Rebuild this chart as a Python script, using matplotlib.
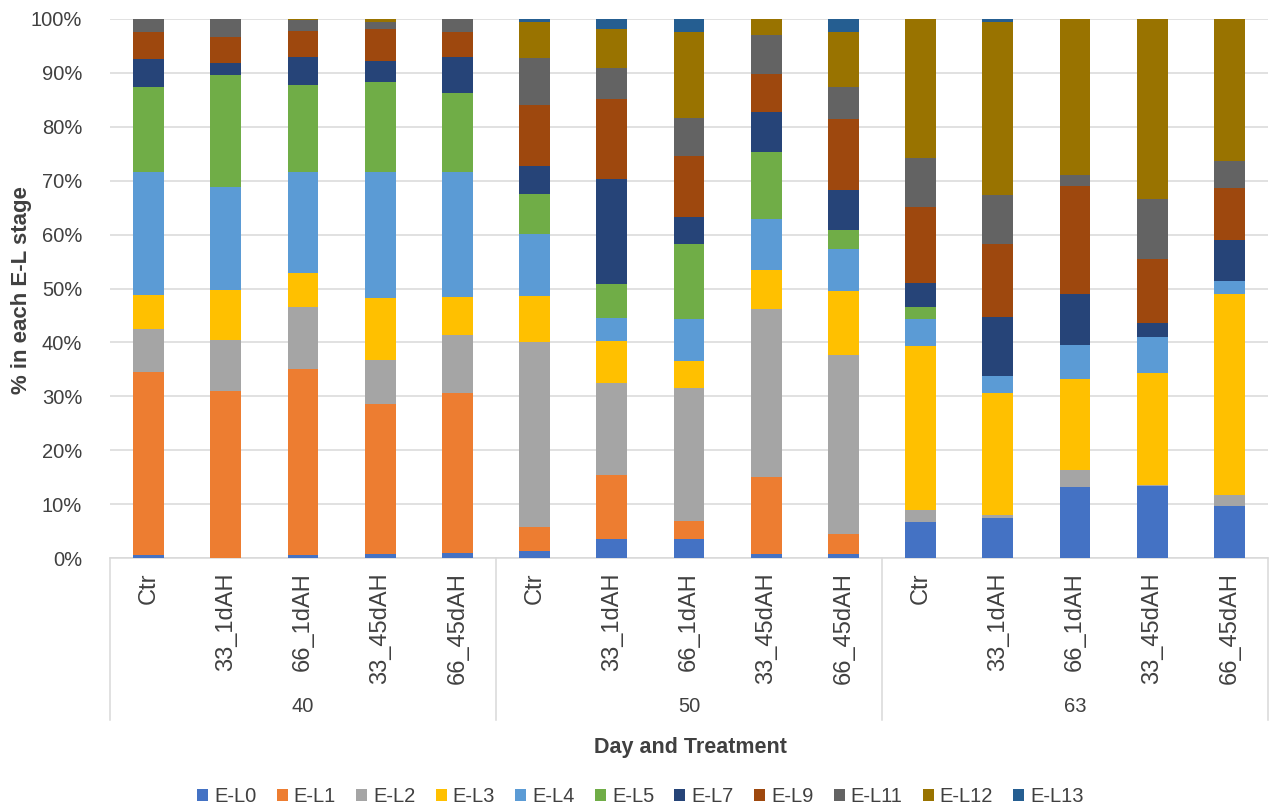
import numpy as np
import matplotlib
matplotlib.use("Agg")
import matplotlib.pyplot as plt

plt.rcParams['font.family'] = ['Liberation Sans', 'DejaVu Sans']

days = ["40", "50", "63"]
treatments = ["Ctr", "33_1dAH", "66_1dAH", "33_45dAH", "66_45dAH"]
stages = ["E-L0", "E-L1", "E-L2", "E-L3", "E-L4", "E-L5",
          "E-L7", "E-L9", "E-L11", "E-L12", "E-L13"]

# percentage of shoots in each E-L stage, one value per day x treatment
el0 = [0.5, 0, 0.5, 0.7, 0.9, 1.3, 3.5, 3.5, 0.7, 0.7, 6.7, 7.4, 13.2, 13.4, 9.6]
el1 = [34.1, 30.9, 34.6, 27.9, 29.7, 4.4, 11.9, 3.4, 14.3, 3.7, 0, 0, 0, 0, 0]
el2 = [7.8, 9.5, 11.5, 8.1, 10.7, 34.3, 17.1, 24.7, 31.2, 33.3, 2.2, 0.6, 3.2, 0.2, 2.0]
el3 = [6.4, 9.4, 6.3, 11.6, 7.2, 8.7, 7.7, 4.9, 7.2, 11.8, 30.4, 22.7, 16.9, 20.8, 37.3]
el4 = [22.8, 19.0, 18.8, 23.3, 23.2, 11.4, 4.4, 7.9, 9.5, 7.8, 5.1, 3.1, 6.2, 6.6, 2.5]
el5 = [15.8, 20.8, 16.1, 16.7, 14.6, 7.4, 6.2, 13.8, 12.5, 3.5, 2.1, 0, 0, 0, 0]
el7 = [5.1, 2.2, 5.1, 3.9, 6.6, 5.2, 19.5, 5.1, 7.4, 7.5, 4.5, 10.9, 9.5, 2.6, 7.6]
el9 = [5.1, 4.8, 4.9, 6.0, 4.7, 11.3, 14.9, 11.3, 7.0, 13.2, 14.1, 13.6, 20.1, 11.8, 9.7]
el11 = [2.4, 3.4, 2.0, 1.3, 2.4, 8.7, 5.7, 7.1, 7.3, 5.9, 9.1, 9.0, 2.0, 11.2, 5.0]
el12 = [0, 0, 0.2, 0.5, 0, 6.8, 7.2, 15.9, 2.9, 10.1, 25.8, 32.2, 28.9, 33.4, 26.3]
el13 = [0, 0, 0, 0, 0, 0.5, 1.9, 2.4, 0, 2.5, 0, 0.5, 0, 0, 0]

series = [el0, el1, el2, el3, el4, el5, el7, el9, el11, el12, el13]
colors = ["#4472C4", "#ED7D31", "#A5A5A5", "#FFC000", "#5B9BD5", "#70AD47",
          "#264478", "#9E480E", "#636363", "#997300", "#255E91"]

txt = "#404040"
grid = "#D9D9D9"
fs = 14.5

fig = plt.figure(figsize=(12.81, 8.10), dpi=100)
ax = fig.add_axes([110 / 1281, 252 / 810, 1158 / 1281, 539 / 810])

n = len(days) * len(treatments)
x = np.arange(n)
bottom = np.zeros(n)
for name, vals, c in zip(stages, series, colors):
    ax.bar(x, vals, width=0.4, bottom=bottom, color=c, label=name, zorder=3)
    bottom += np.array(vals)

ax.set_xlim(-0.5, n - 0.5)
ax.set_ylim(0, 100)
ax.set_yticks(np.arange(0, 101, 10))
ax.set_yticklabels([f"{v}%" for v in range(0, 101, 10)], fontsize=fs, color=txt)
ax.tick_params(axis='y', length=0, pad=20)
ax.grid(axis='y', color=grid, linewidth=1.1, zorder=0)
ax.set_xticks([])
for s in ["top", "right", "left"]:
    ax.spines[s].set_visible(False)
ax.spines["bottom"].set_color(grid)
ax.spines["bottom"].set_linewidth(1.1)

# two-level category axis: treatment under each bar, day under each group
trans = ax.get_xaxis_transform()
for i in range(n):
    ax.text(x[i], -0.026, treatments[i % len(treatments)], rotation=90,
            ha='center', va='top', fontsize=17, color=txt, transform=trans)
for g, d in enumerate(days):
    xc = g * len(treatments) + (len(treatments) - 1) / 2
    ax.text(xc, -0.2764, d, ha='center', va='center', fontsize=fs,
            color=txt, transform=trans)
for xs in np.arange(-0.5, n, len(treatments)):
    ax.plot([xs, xs], [0, -0.3], color=grid, linewidth=1.1,
            transform=trans, clip_on=False)

fig.text(690 / 1281, 1 - 747 / 810, "Day and Treatment", ha='center',
         va='center', fontsize=15.5, fontweight='bold', color=txt)
fig.text(22 / 1281, 1 - 290 / 810, "% in each E-L stage", rotation=90,
         ha='center', va='center', fontsize=16, fontweight='bold', color=txt)

fig.legend(loc='center', bbox_to_anchor=(0.5, 1 - 797 / 810), ncol=len(stages),
           frameon=False, fontsize=fs, handlelength=0.55, handleheight=0.55,
           handletextpad=0.3, columnspacing=1.0, labelcolor=txt)

fig.savefig("out.png", dpi=100)
